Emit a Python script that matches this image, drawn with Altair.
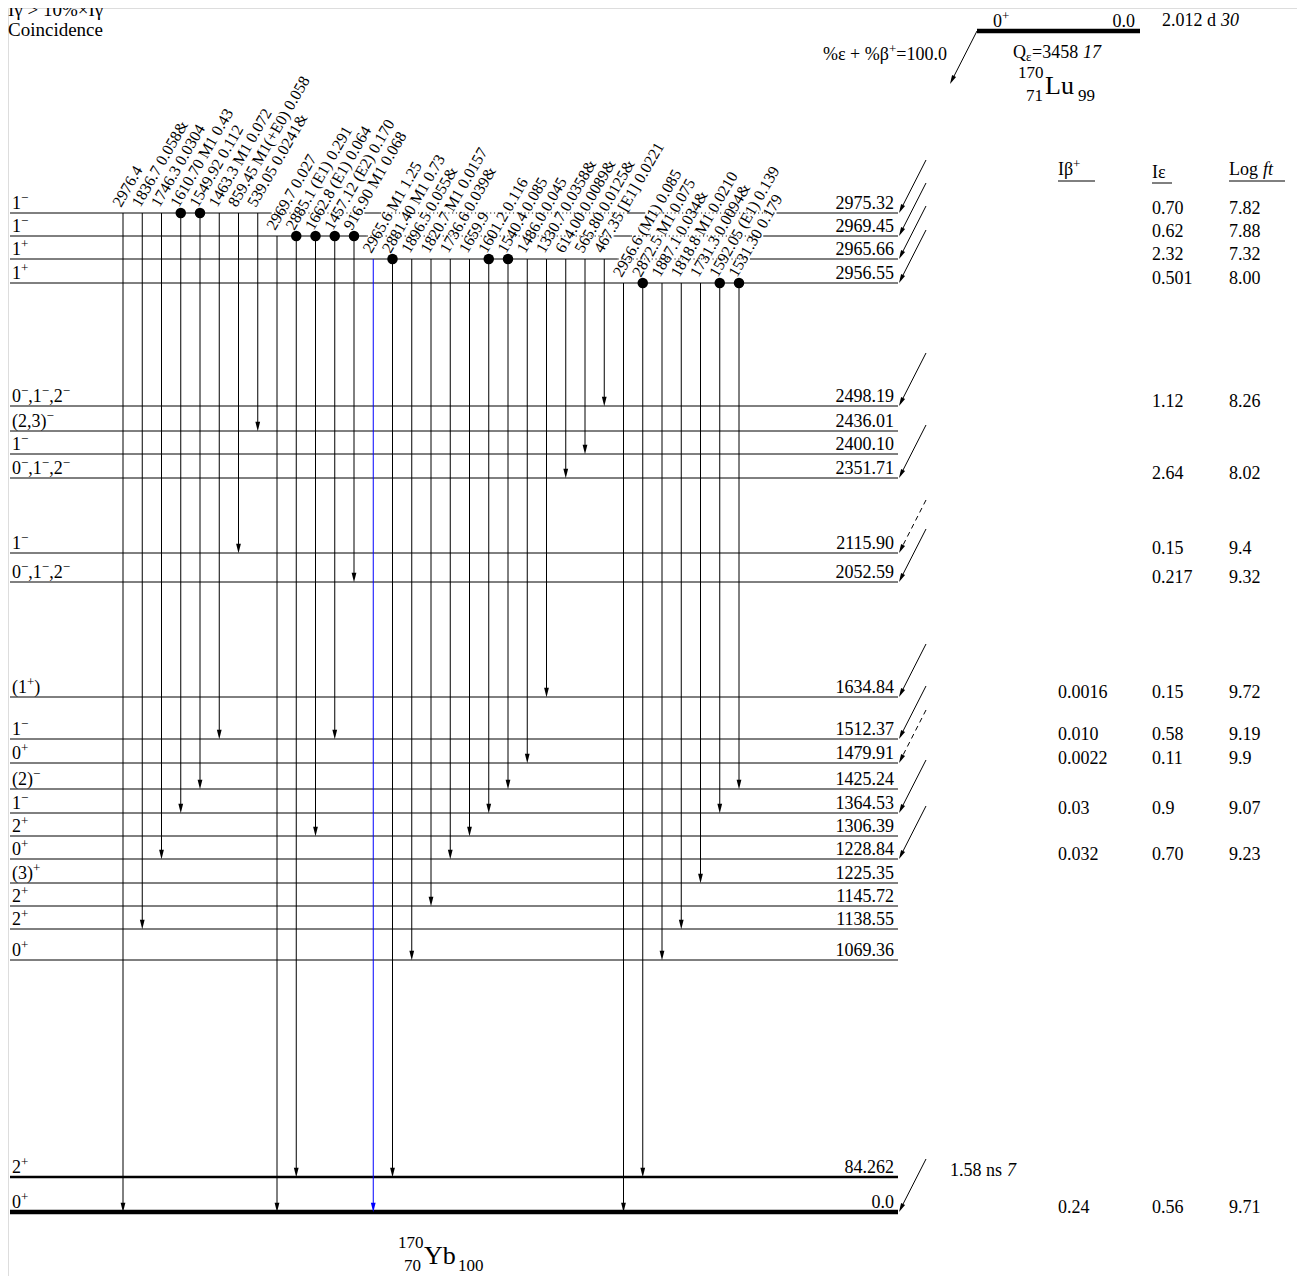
import math
import altair as alt
import pandas as pd

# ---------------- data read from the scheme ----------------
level_energy = ["2975.32", "2969.45", "2965.66", "2956.55", "2498.19", "2436.01", "2400.10",
                "2351.71", "2115.90", "2052.59", "1634.84", "1512.37", "1479.91", "1425.24",
                "1364.53", "1306.39", "1228.84", "1225.35", "1145.72", "1138.55", "1069.36",
                "84.262", "0.0"]
level_spin = ["1⁻", "1⁻", "1⁺", "1⁺", "0⁻,1⁻,2⁻", "(2,3)⁻", "1⁻", "0⁻,1⁻,2⁻", "1⁻", "0⁻,1⁻,2⁻",
              "(1⁺)", "1⁻", "0⁺", "(2)⁻", "1⁻", "2⁺", "0⁺", "(3)⁺", "2⁺", "2⁺", "0⁺", "2⁺", "0⁺"]

gamma_label = ["2976.4", "1836.7 0.058&", "1746.3 0.0304", "1610.70 M1 0.43", "1549.92 0.112",
               "1463.3 M1 0.072", "859.45 M1(+E0) 0.058", "539.05 0.0241&",
               "2969.7 0.027", "2885.1 (E1) 0.291", "1662.8 (E1) 0.064", "1457.12 (E2) 0.170",
               "916.90 M1 0.068",
               "2965.6 M1 1.25", "2881.40 M1 0.73", "1896.5 0.055&", "1820.7 M1 0.0157",
               "1736.6 0.039&", "1659.9", "1601.2 0.116", "1540.4 0.085", "1486.0 0.045",
               "1330.7 0.0358&", "614.00 0.0089&", "565.80 0.0125&", "467.35 [E1] 0.0221",
               "2956.6 (M1) 0.085", "2872.5 M1 0.075", "1887.1 0.034&", "1818.8 M1 0.0210",
               "1731.3 0.0094&", "1592.05 (E1) 0.139", "1531.30 0.179"]
gamma_from = (["2975.32"] * 8 + ["2969.45"] * 5 + ["2965.66"] * 13 + ["2956.55"] * 7)
gamma_to = ["0.0", "1138.55", "1228.84", "1364.53", "1425.24", "1512.37", "2115.90", "2436.01",
            "0.0", "84.262", "1306.39", "1512.37", "2052.59",
            "0.0", "84.262", "1069.36", "1145.72", "1228.84", "1306.39", "1364.53", "1425.24",
            "1479.91", "1634.84", "2351.71", "2400.10", "2498.19",
            "0.0", "84.262", "1069.36", "1138.55", "1225.35", "1364.53", "1425.24"]
gamma_coin = [0, 0, 0, 1, 1, 0, 0, 0,
              0, 1, 1, 1, 1,
              0, 1, 0, 0, 0, 0, 1, 1, 0, 0, 0, 0, 0,
              0, 1, 0, 0, 0, 1, 1]
gamma_highlight = ["2965.6 M1 1.25"]

fed_level = ["2975.32", "2969.45", "2965.66", "2956.55", "2498.19", "2351.71", "2115.90",
             "2052.59", "1634.84", "1512.37", "1479.91", "1364.53", "1228.84", "0.0"]
fed_uncertain = ["2115.90", "1479.91"]

row_level = ["2975.32", "2969.45", "2965.66", "2956.55", "2498.19", "2351.71", "2115.90",
             "2052.59", "1634.84", "1512.37", "1479.91", "1364.53", "1228.84", "0.0"]
row_ib = ["", "", "", "", "", "", "", "", "0.0016", "0.010", "0.0022", "0.03", "0.032", "0.24"]
row_ie = ["0.70", "0.62", "2.32", "0.501", "1.12", "2.64", "0.15", "0.217", "0.15", "0.58",
          "0.11", "0.9", "0.70", "0.56"]
row_logft = ["7.82", "7.88", "7.32", "8.00", "8.26", "8.02", "9.4", "9.32", "9.72", "9.19",
             "9.9", "9.07", "9.23", "9.71"]

# ---------------- layout (drawing slots of the scheme, page pixels) ----------------
level_slot = [213, 236, 259, 283, 406, 431, 454, 478, 553, 582, 697, 739, 763, 789, 813, 836,
              859, 883, 906, 929, 960, 1177, 1212]
W, H = 1289, 1268
LX0, LX1 = 10, 898
GX0, GDX = 123, 19.25
ANG = 60.0
LAB_DX, LAB_DY = -2, 5
FS_LAB = 16
FS = 18
FONT = "Liberation Serif"
FEED_DX, FEED_DY = 27, 53
PY = 31  # parent level drawing height

ypos = dict(zip(level_energy, level_slot))
thick = {"84.262": 2.5, "0.0": 4.5}

# Times-metric character widths (em) for placing superscripts
WID = {"(": .333, ")": .333, ",": .25, ".": .25, " ": .25, "+": .564, "−": .564, "%": .833,
       "ε": .44, "β": .5, "=": .564, "I": .333}


def rich(text, x, y, fs, align="left"):
    parts = []
    for ch in text:
        sup = ch in "⁺⁻"
        c = {"⁺": "+", "⁻": "−"}.get(ch, ch)
        if parts and parts[-1][1] == sup:
            parts[-1][0] += c
        else:
            parts.append([c, sup])
    sfs = round(fs * 0.72, 1)
    widths = [sum(WID.get(c, .5) for c in s) * (sfs if sup else fs) for s, sup in parts]
    x0 = x - sum(widths) if align == "right" else x
    out = []
    for (s, sup), w in zip(parts, widths):
        out.append(dict(t=s, x=x0, y=y - (0.4 * fs if sup else 0), s=sfs if sup else fs,
                        st="normal"))
        x0 += w
    return out


def gx(i):
    return GX0 + GDX * i


# ---- level line segments (dotted where transition labels cross) ----
A = math.radians(ANG)
solid, dotted = [], []
for e, yl in zip(level_energy, level_slot):
    cuts = []
    for src in dict.fromkeys(gamma_from):
        ys = ypos[src]
        if ys <= yl:
            continue
        xs = []
        for i, (lab, f) in enumerate(zip(gamma_label, gamma_from)):
            if f != src:
                continue
            rise = ys - LAB_DY - yl
            if 0.46 * FS_LAB * len(lab) * math.sin(A) < rise:
                continue
            xb = gx(i) + LAB_DX + rise / math.tan(A)
            xs.append((xb - 13 / math.sin(A), xb + 2))
        if xs:
            cuts.append((min(a for a, b in xs), max(b for a, b in xs)))
    cuts.sort()
    cur = LX0
    w = thick.get(e, 1.0)
    for a, b in cuts:
        solid.append(dict(x=cur, x2=a, y=yl, w=w))
        dotted.append(dict(x=a, x2=b, y=yl, w=w))
        cur = b
    solid.append(dict(x=cur, x2=LX1, y=yl, w=w))

solid_df = pd.DataFrame(solid)
dotted_df = pd.DataFrame(dotted)

levels_df = pd.DataFrame(dict(energy=level_energy, y=level_slot))

g_rows = []
for i, (lab, f, t, c) in enumerate(zip(gamma_label, gamma_from, gamma_to, gamma_coin)):
    col = "#0000ff" if lab in gamma_highlight else "black"
    g_rows.append(dict(label=lab, x=gx(i), y=ypos[f], y2=ypos[t] - 6, yh=ypos[t] - 4.5,
                       coin=c, col=col, lx=gx(i) + LAB_DX, ly=ypos[f] - LAB_DY))
g_df = pd.DataFrame(g_rows)
coin_df = g_df[g_df.coin == 1]

L = math.hypot(FEED_DX, FEED_DY)
ux, uy = -FEED_DX / L, FEED_DY / L
f_rows = []
for e in fed_level:
    y = ypos[e]
    f_rows.append(dict(x=LX1 + 1 + FEED_DX, y=y - FEED_DY, x2=LX1 + 1 - ux * 5, y2=y - uy * 5,
                       hx=LX1 + 1 - ux * 4.5, hy=y - uy * 4.5,
                       dash=1 if e in fed_uncertain else 0))
f_df = pd.DataFrame(f_rows)
FEED_ANGLE = math.degrees(math.atan2(FEED_DX, FEED_DY))

rows_df = pd.DataFrame(dict(y=[ypos[e] + 1 for e in row_level], ib=row_ib, ie=row_ie, lf=row_logft))

# ---------------- scales ----------------
X = alt.Scale(domain=[8, 8 + W], range=[0, W])
Y = alt.Scale(domain=[8 + H, 8], range=[H, 0])


def xq(f):
    return alt.X(f, type="quantitative", scale=X, axis=None)


def yq(f):
    return alt.Y(f, type="quantitative", scale=Y, axis=None)


def base(df):
    return alt.Chart(df)


layers = []

# level lines
layers.append(base(solid_df).mark_rule(color="black").encode(
    x=xq("x"), x2="x2", y=yq("y"), strokeWidth=alt.StrokeWidth("w:Q", scale=None)))
layers.append(base(dotted_df).mark_rule(color="black", strokeDash=[1.2, 2.6]).encode(
    x=xq("x"), x2="x2", y=yq("y"), strokeWidth=alt.StrokeWidth("w:Q", scale=None)))

# energy labels
layers.append(base(levels_df).mark_text(align="right", baseline="alphabetic", font=FONT,
                                        fontSize=FS, dy=-4).encode(
    x=alt.value(894 - 8), y=yq("y"), text="energy:N"))

# gamma transitions
layers.append(base(g_df).mark_rule(strokeWidth=1).encode(
    x=xq("x"), y=yq("y"), y2="y2", color=alt.Color("col:N", scale=None)))
layers.append(base(g_df).mark_point(shape="M-0.5,-1L0.5,-1L0,1Z", filled=True, size=90,
                                    opacity=1, strokeWidth=0).encode(
    x=xq("x"), y=yq("yh"), color=alt.Color("col:N", scale=None)))
layers.append(base(coin_df).mark_point(shape="circle", filled=True, size=110, opacity=1,
                                       color="black", strokeWidth=0).encode(
    x=xq("x"), y=yq("y")))
layers.append(base(g_df).mark_text(align="left", baseline="alphabetic", font=FONT,
                                   fontSize=FS_LAB, angle=360 - ANG).encode(
    x=xq("lx"), y=yq("ly"), text="label:N"))

# feeding arrows
layers.append(base(f_df[f_df.dash == 0]).mark_rule(strokeWidth=1, color="black").encode(
    x=xq("x"), y=yq("y"), x2="x2", y2="y2"))
layers.append(base(f_df[f_df.dash == 1]).mark_rule(strokeWidth=1, color="black",
                                                   strokeDash=[5, 4]).encode(
    x=xq("x"), y=yq("y"), x2="x2", y2="y2"))
layers.append(base(f_df).mark_point(shape="M-0.5,-1L0.5,-1L0,1Z", filled=True, size=80,
                                    opacity=1, strokeWidth=0, color="black",
                                    angle=FEED_ANGLE).encode(
    x=xq("hx"), y=yq("hy")))

# right columns
for col, xv in (("ib", 1058), ("ie", 1152), ("lf", 1229)):
    layers.append(base(rows_df).mark_text(align="left", baseline="alphabetic", font=FONT,
                                          fontSize=FS).encode(
        x=alt.value(xv - 8), y=yq("y"), text=f"{col}:N"))

# free texts (spins, headers, parent, nuclide labels)
pieces = []
for sp, yl in zip(level_spin, level_slot):
    pieces += rich(sp, 12, yl - 4, FS)
pieces += rich("Iβ⁺", 1058, 175, FS)
pieces += rich("0⁺", 993, PY - 4, FS)
pieces += rich("%ε + %β⁺=100.0", 947, 60, FS, align="right")
pieces += [
    dict(t="Iε", x=1152, y=178, s=FS, st="normal"),
    dict(t="Log ", x=1229, y=175, s=FS, st="normal"),
    dict(t="ft", x=1263, y=175, s=FS, st="italic"),
    dict(t="2.012 d ", x=1162, y=PY - 5, s=FS, st="normal"),
    dict(t="30", x=1221, y=PY - 5, s=FS, st="italic"),
    dict(t="Q", x=1013, y=58, s=FS, st="normal"),
    dict(t="ε", x=1026, y=61, s=13, st="normal"),
    dict(t="=3458 ", x=1032, y=58, s=FS, st="normal"),
    dict(t="17", x=1083, y=58, s=FS, st="italic"),
    dict(t="170", x=1018, y=78, s=17, st="normal"),
    dict(t="71", x=1026, y=101, s=17, st="normal"),
    dict(t="Lu", x=1045, y=94, s=26, st="normal"),
    dict(t="99", x=1078, y=101, s=17, st="normal"),
    dict(t="170", x=398, y=1248, s=17, st="normal"),
    dict(t="70", x=404, y=1271, s=17, st="normal"),
    dict(t="Yb", x=424, y=1264, s=26, st="normal"),
    dict(t="100", x=458, y=1271, s=17, st="normal"),
    dict(t="1.58 ns ", x=950, y=1176, s=FS, st="normal"),
    dict(t="7", x=1007, y=1176, s=FS, st="italic"),
    dict(t="Iγ > 10%×Iγ", x=8, y=16, s=19, st="normal"),
    dict(t="Coincidence", x=8, y=36, s=19, st="normal"),
]
pieces_df = pd.DataFrame(pieces)
for (s, st), sub in pieces_df.groupby(["s", "st"]):
    layers.append(base(sub[["t", "x", "y"]]).mark_text(align="left", baseline="alphabetic",
                                                       font=FONT, fontSize=float(s),
                                                       fontStyle=st).encode(
        x=xq("x"), y=yq("y"), text="t:N"))
layers.append(base(pd.DataFrame([dict(t="0.0", x=1135, y=PY - 4)])).mark_text(
    align="right", baseline="alphabetic", font=FONT, fontSize=FS).encode(
    x=xq("x"), y=yq("y"), text="t:N"))

# header underlines and parent level
ul = pd.DataFrame([dict(x=1058, x2=1095, y=181, w=1), dict(x=1152, x2=1172, y=183, w=1),
                   dict(x=1229, x2=1285, y=181, w=1), dict(x=977, x2=1140, y=PY, w=4.5)])
layers.append(base(ul).mark_rule(color="black").encode(
    x=xq("x"), x2="x2", y=yq("y"), strokeWidth=alt.StrokeWidth("w:Q", scale=None)))

# parent decay arrow
pa = pd.DataFrame([dict(x=977, y=PY, x2=977 - FEED_DX + 5 * FEED_DX / L, y2=PY + FEED_DY - 5 * FEED_DY / L,
                        hx=977 - FEED_DX + 4.5 * FEED_DX / L, hy=PY + FEED_DY - 4.5 * FEED_DY / L)])
layers.append(base(pa).mark_rule(strokeWidth=1, color="black").encode(
    x=xq("x"), y=yq("y"), x2="x2", y2="y2"))
layers.append(base(pa).mark_point(shape="M-0.5,-1L0.5,-1L0,1Z", filled=True, size=80, opacity=1,
                                  strokeWidth=0, color="black", angle=FEED_ANGLE).encode(
    x=xq("hx"), y=yq("hy")))

chart = alt.layer(*layers).properties(width=W, height=H, padding=0, autosize="none").configure_view(
    stroke=None).configure(background="white")

chart.save("out.html", embed_options={"renderer": "svg", "actions": False})
